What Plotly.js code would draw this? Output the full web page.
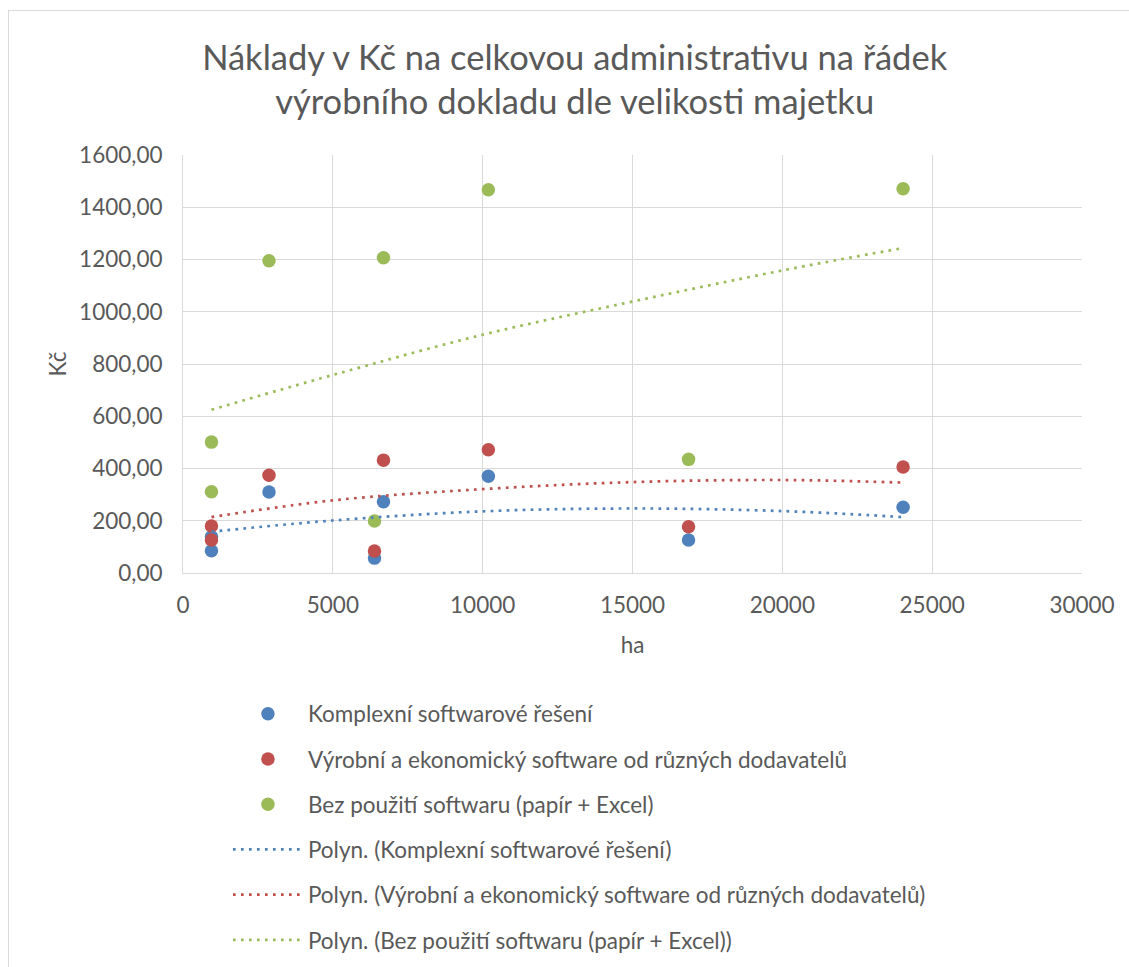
<!DOCTYPE html>
<html>
<head>
<meta charset="utf-8">
<script src="https://cdn.plot.ly/plotly-3.0.1.min.js"></script>
<style>
  body { margin: 0; background: #fff; }
  #frame { position: absolute; left: 8px; top: 10px; width: 1200px; height: 1000px; border: 1px solid #d9d9d9; }
  #chart { position: absolute; left: 0; top: 0; width: 1129px; height: 967px; }
</style>
</head>
<body>
<div id="frame"></div>
<div id="chart"></div>
<script>
// velikost majetku (ha)
var ha = [950, 950, 2870, 6390, 6690, 10190, 16870, 24030];

// Kč na řádek dokladu
var komplexni = [139, 85, 310, 57, 273, 370, 126, 252];
var ruzni     = [126, 180, 374, 84, 432, 472, 177, 406];
var bezSw     = [501, 311, 1195, 199, 1207, 1467, 435, 1471];

// polynomické spojnice trendu
var trendHa        = [950, 5000, 10000, 15000, 20000, 24030];
var trendKomplexni = [158, 201, 236, 247, 237, 214];
var trendRuzni     = [214, 278, 321, 348, 356, 346];
var trendBezSw     = [625, 758, 912, 1039, 1158, 1244];

var names = ['Komplexní softwarové řešení',
             'Výrobní a ekonomický software od různých dodavatelů',
             'Bez použití softwaru (papír + Excel)'];
var colors = ['#4F81BD', '#C0504D', '#9BBB59'];

var font = 'Lato, "Open Sans", sans-serif';
var grey = '#595959';

function points(y, i) {
  return {
    x: ha, y: y, type: 'scatter', mode: 'markers',
    name: names[i], legendgroup: 'p' + i,
    marker: {color: colors[i], size: 13.5}
  };
}

function trend(y, i) {
  return {
    x: trendHa, y: y, type: 'scatter', mode: 'lines',
    name: 'Polyn. (' + names[i] + ')', legendgroup: 't' + i,
    line: {color: colors[i], width: 2.7, dash: '2.7px,5.3px', shape: 'spline'}
  };
}

var data = [
  points(komplexni, 0), points(ruzni, 1), points(bezSw, 2),
  trend(trendKomplexni, 0), trend(trendRuzni, 1), trend(trendBezSw, 2)
];

var layout = {
  width: 1129,
  height: 967,
  margin: {l: 183, r: 47, t: 155, b: 394, autoexpand: false},
  paper_bgcolor: 'rgba(0,0,0,0)',
  plot_bgcolor: '#fff',
  separators: ',.',
  font: {family: font, size: 22.5, color: grey},
  title: {
    text: 'Náklady v Kč na celkovou administrativu na řádek<br>výrobního dokladu dle velikosti majetku',
    font: {family: font, size: 34.5, color: grey},
    xref: 'container', x: 0.509, xanchor: 'center',
    yref: 'container', y: 0.928, yanchor: 'middle'
  },
  xaxis: {
    range: [0, 30000], dtick: 5000, tickformat: 'd',
    showgrid: true, gridcolor: '#d9d9d9', gridwidth: 1,
    showline: true, linecolor: '#d9d9d9', linewidth: 1,
    zeroline: false, ticks: '', ticklabelstandoff: 12,
    title: {text: 'ha', standoff: 20, font: {size: 22.5, color: grey}}
  },
  yaxis: {
    range: [0, 1600], dtick: 200, tickformat: '.2f',
    showgrid: true, gridcolor: '#d9d9d9', gridwidth: 1,
    showline: true, linecolor: '#d9d9d9', linewidth: 1,
    zeroline: false, ticks: '', ticklabelstandoff: 15,
    title: {text: 'Kč', standoff: 6, font: {size: 22.5, color: grey}}
  },
  showlegend: true,
  legend: {
    x: 0.05, xanchor: 'left',
    y: -0.286, yanchor: 'top',
    traceorder: 'grouped', tracegroupgap: 13,
    itemwidth: 70,
    bgcolor: 'rgba(0,0,0,0)',
    font: {family: font, size: 22.5, color: grey}
  }
};

Plotly.newPlot('chart', data, layout, {displayModeBar: false, staticPlot: true});
</script>
</body>
</html>
